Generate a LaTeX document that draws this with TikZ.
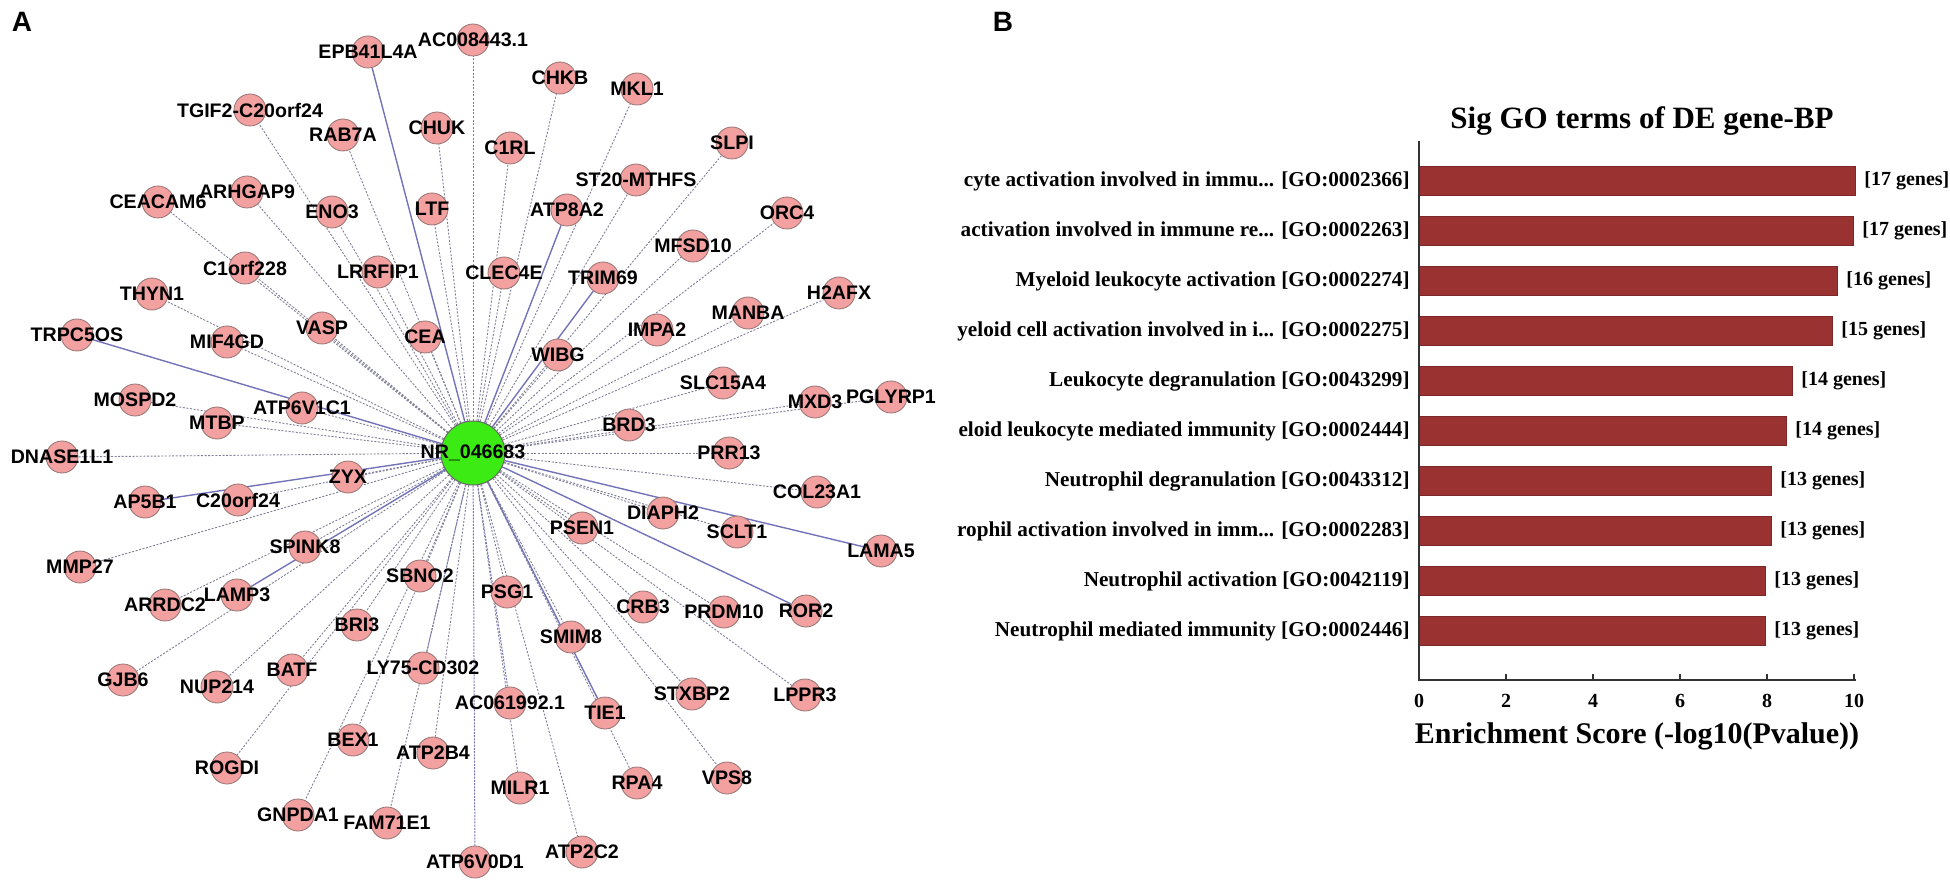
\documentclass[tikz,border=0pt]{standalone}
\usepackage{fontspec}
\setmainfont{Liberation Serif}
\setsansfont{Liberation Sans}
\usetikzlibrary{backgrounds}
\definecolor{genefill}{RGB}{242,160,160}
\definecolor{geneline}{RGB}{150,115,115}
\definecolor{hubfill}{RGB}{60,235,20}
\definecolor{linkgray}{RGB}{125,125,150}
\definecolor{linkblue}{RGB}{115,115,185}
\definecolor{barred}{RGB}{155,50,50}
\tikzset{
  genetext/.style={font=\sffamily\bfseries\fontsize{9.8}{11}\selectfont, inner sep=0pt},
  gene/.style={circle, draw=geneline, line width=0.4pt, fill=genefill, minimum size=16pt, inner sep=0pt, label={[genetext]center:#1}},
  hub/.style={circle, draw=black!60, line width=0.5pt, fill=hubfill, minimum size=32pt, inner sep=0pt, label={[genetext]center:#1}},
  link/.style={linkgray, line width=0.45pt, dash pattern=on 1pt off 0.8pt},
  bluelink/.style={linkblue, line width=0.5pt, dash pattern=on 1pt off 0.6pt},
  strong/.style={linkblue, line width=0.7pt},
  goterm/.style={anchor=east, inner sep=0pt, font=\bfseries\fontsize{10.6}{12}\selectfont},
  genecount/.style={anchor=west, inner sep=0pt, font=\bfseries\fontsize{10}{12}\selectfont},
  bar/.style={fill=barred, draw=barred!80!black, line width=0.4pt},
  panel/.style={font=\sffamily\bfseries\fontsize{14}{16}\selectfont, inner sep=0pt}
}
\begin{document}
\begin{tikzpicture}[x=0.5pt, y=-0.5pt]
    \useasboundingbox (0,0) rectangle (1950,882);

    \node[panel] (labA) at (22,22) {A};
    \node[panel] (labB) at (1003,22) {B};

    \node[hub=NR\_046683] (hub) at (473,453) {};

    \node[gene=EPB41L4A] (EPB41L4A) at (368,52) {};
    \node[gene=AC008443.1] (AC008443) at (473,40) {};
    \node[gene=TGIF2-C20orf24] (TGIF2) at (250,110) {};
    \node[gene=RAB7A] (RAB7A) at (343,135) {};
    \node[gene=CHKB] (CHKB) at (560,78) {};
    \node[gene=MKL1] (MKL1) at (637,89) {};
    \node[gene=CHUK] (CHUK) at (437,128) {};
    \node[gene=C1RL] (C1RL) at (510,148) {};
    \node[gene=SLPI] (SLPI) at (732,143) {};
    \node[gene=ST20-MTHFS] (ST20) at (636,180) {};
    \node[gene=CEACAM6] (CEACAM6) at (158,202) {};
    \node[gene=ARHGAP9] (ARHGAP9) at (247,192) {};
    \node[gene=ENO3] (ENO3) at (332,212) {};
    \node[gene=LTF] (LTF) at (432,209) {};
    \node[gene=ATP8A2] (ATP8A2) at (567,210) {};
    \node[gene=ORC4] (ORC4) at (787,213) {};
    \node[gene=MFSD10] (MFSD10) at (693,246) {};
    \node[gene=C1orf228] (C1orf228) at (245,268) {};
    \node[gene=LRRFIP1] (LRRFIP1) at (378,272) {};
    \node[gene=CLEC4E] (CLEC4E) at (504,273) {};
    \node[gene=TRIM69] (TRIM69) at (603,278) {};
    \node[gene=H2AFX] (H2AFX) at (839,293) {};
    \node[gene=THYN1] (THYN1) at (152,294) {};
    \node[gene=MANBA] (MANBA) at (748,313) {};
    \node[gene=VASP] (VASP) at (322,328) {};
    \node[gene=TRPC5OS] (TRPC5OS) at (77,335) {};
    \node[gene=IMPA2] (IMPA2) at (657,330) {};
    \node[gene=CEA] (CEA) at (425,337) {};
    \node[gene=MIF4GD] (MIF4GD) at (227,342) {};
    \node[gene=WIBG] (WIBG) at (558,355) {};
    \node[gene=SLC15A4] (SLC15A4) at (723,383) {};
    \node[gene=MOSPD2] (MOSPD2) at (135,400) {};
    \node[gene=MXD3] (MXD3) at (815,402) {};
    \node[gene=PGLYRP1] (PGLYRP1) at (891,397) {};
    \node[gene=ATP6V1C1] (ATP6V1C1) at (302,408) {};
    \node[gene=MTBP] (MTBP) at (217,423) {};
    \node[gene=BRD3] (BRD3) at (629,425) {};
    \node[gene=DNASE1L1] (DNASE1L1) at (62,457) {};
    \node[gene=PRR13] (PRR13) at (729,453) {};
    \node[gene=ZYX] (ZYX) at (348,477) {};
    \node[gene=COL23A1] (COL23A1) at (817,492) {};
    \node[gene=AP5B1] (AP5B1) at (145,502) {};
    \node[gene=C20orf24] (C20orf24) at (238,500) {};
    \node[gene=DIAPH2] (DIAPH2) at (663,513) {};
    \node[gene=PSEN1] (PSEN1) at (582,528) {};
    \node[gene=SCLT1] (SCLT1) at (737,532) {};
    \node[gene=SPINK8] (SPINK8) at (305,547) {};
    \node[gene=LAMA5] (LAMA5) at (881,551) {};
    \node[gene=MMP27] (MMP27) at (80,567) {};
    \node[gene=SBNO2] (SBNO2) at (420,576) {};
    \node[gene=PSG1] (PSG1) at (507,592) {};
    \node[gene=ARRDC2] (ARRDC2) at (165,605) {};
    \node[gene=LAMP3] (LAMP3) at (237,595) {};
    \node[gene=CRB3] (CRB3) at (643,607) {};
    \node[gene=ROR2] (ROR2) at (806,611) {};
    \node[gene=PRDM10] (PRDM10) at (724,612) {};
    \node[gene=BRI3] (BRI3) at (357,625) {};
    \node[gene=SMIM8] (SMIM8) at (571,637) {};
    \node[gene=LY75-CD302] (LY75) at (423,668) {};
    \node[gene=BATF] (BATF) at (292,670) {};
    \node[gene=GJB6] (GJB6) at (123,680) {};
    \node[gene=NUP214] (NUP214) at (217,687) {};
    \node[gene=STXBP2] (STXBP2) at (692,694) {};
    \node[gene=LPPR3] (LPPR3) at (805,695) {};
    \node[gene=AC061992.1] (AC061992) at (510,703) {};
    \node[gene=TIE1] (TIE1) at (605,713) {};
    \node[gene=BEX1] (BEX1) at (353,740) {};
    \node[gene=ATP2B4] (ATP2B4) at (433,753) {};
    \node[gene=ROGDI] (ROGDI) at (227,768) {};
    \node[gene=VPS8] (VPS8) at (727,778) {};
    \node[gene=RPA4] (RPA4) at (637,783) {};
    \node[gene=MILR1] (MILR1) at (520,788) {};
    \node[gene=GNPDA1] (GNPDA1) at (298,815) {};
    \node[gene=FAM71E1] (FAM71E1) at (387,823) {};
    \node[gene=ATP2C2] (ATP2C2) at (582,852) {};
    \node[gene=ATP6V0D1] (ATP6V0D1) at (475,862) {};

    \begin{pgfonlayer}{background}
        \draw[strong] (hub) -- (EPB41L4A);
        \draw[link] (hub) -- (AC008443);
        \draw[link] (hub) -- (TGIF2);
        \draw[link] (hub) -- (RAB7A);
        \draw[link] (hub) -- (CHKB);
        \draw[link] (hub) -- (MKL1);
        \draw[link] (hub) -- (CHUK);
        \draw[link] (hub) -- (C1RL);
        \draw[link] (hub) -- (SLPI);
        \draw[link] (hub) -- (ST20);
        \draw[link] (hub) -- (CEACAM6);
        \draw[link] (hub) -- (ARHGAP9);
        \draw[link] (hub) -- (ENO3);
        \draw[link] (hub) -- (LTF);
        \draw[strong] (hub) -- (ATP8A2);
        \draw[link] (hub) -- (ORC4);
        \draw[link] (hub) -- (MFSD10);
        \draw[link] (hub) -- (C1orf228);
        \draw[link] (hub) -- (LRRFIP1);
        \draw[link] (hub) -- (CLEC4E);
        \draw[strong] (hub) -- (TRIM69);
        \draw[link] (hub) -- (H2AFX);
        \draw[link] (hub) -- (THYN1);
        \draw[link] (hub) -- (MANBA);
        \draw[link] (hub) -- (VASP);
        \draw[strong] (hub) -- (TRPC5OS);
        \draw[link] (hub) -- (IMPA2);
        \draw[link] (hub) -- (CEA);
        \draw[link] (hub) -- (MIF4GD);
        \draw[link] (hub) -- (WIBG);
        \draw[link] (hub) -- (SLC15A4);
        \draw[link] (hub) -- (MOSPD2);
        \draw[link] (hub) -- (MXD3);
        \draw[link] (hub) -- (PGLYRP1);
        \draw[link] (hub) -- (ATP6V1C1);
        \draw[link] (hub) -- (MTBP);
        \draw[link] (hub) -- (BRD3);
        \draw[link] (hub) -- (DNASE1L1);
        \draw[link] (hub) -- (PRR13);
        \draw[link] (hub) -- (ZYX);
        \draw[link] (hub) -- (COL23A1);
        \draw[strong] (hub) -- (AP5B1);
        \draw[link] (hub) -- (C20orf24);
        \draw[link] (hub) -- (DIAPH2);
        \draw[link] (hub) -- (PSEN1);
        \draw[link] (hub) -- (SCLT1);
        \draw[link] (hub) -- (SPINK8);
        \draw[strong] (hub) -- (LAMA5);
        \draw[link] (hub) -- (MMP27);
        \draw[link] (hub) -- (SBNO2);
        \draw[link] (hub) -- (PSG1);
        \draw[link] (hub) -- (ARRDC2);
        \draw[strong] (hub) -- (LAMP3);
        \draw[link] (hub) -- (CRB3);
        \draw[strong] (hub) -- (ROR2);
        \draw[link] (hub) -- (PRDM10);
        \draw[link] (hub) -- (BRI3);
        \draw[link] (hub) -- (SMIM8);
        \draw[bluelink] (hub) -- (LY75);
        \draw[link] (hub) -- (BATF);
        \draw[link] (hub) -- (GJB6);
        \draw[link] (hub) -- (NUP214);
        \draw[link] (hub) -- (STXBP2);
        \draw[link] (hub) -- (LPPR3);
        \draw[bluelink] (hub) -- (AC061992);
        \draw[strong] (hub) -- (TIE1);
        \draw[link] (hub) -- (BEX1);
        \draw[link] (hub) -- (ATP2B4);
        \draw[link] (hub) -- (ROGDI);
        \draw[link] (hub) -- (VPS8);
        \draw[link] (hub) -- (RPA4);
        \draw[link] (hub) -- (MILR1);
        \draw[link] (hub) -- (GNPDA1);
        \draw[link] (hub) -- (FAM71E1);
        \draw[link] (hub) -- (ATP2C2);
        \draw[bluelink] (hub) -- (ATP6V0D1);
    \end{pgfonlayer}

    \node[font=\bfseries\fontsize{15.5}{17}\selectfont] (title) at (1642,121) {Sig GO terms of DE gene-BP};

    \draw[bar] (1419,166.5) rectangle (1855,195.5);
    \draw[bar] (1419,216.5) rectangle (1853,245.5);
    \draw[bar] (1419,266.5) rectangle (1837,295.5);
    \draw[bar] (1419,316.5) rectangle (1832,345.5);
    \draw[bar] (1419,366.5) rectangle (1792,395.5);
    \draw[bar] (1419,416.5) rectangle (1786,445.5);
    \draw[bar] (1419,466.5) rectangle (1771,495.5);
    \draw[bar] (1419,516.5) rectangle (1771,545.5);
    \draw[bar] (1419,566.5) rectangle (1765,595.5);
    \draw[bar] (1419,616.5) rectangle (1765,645.5);

    \node[goterm] (t1) at (1410,181) {cyte activation involved in immu... [GO:0002366]};
    \node[goterm] (t2) at (1410,231) {activation involved in immune re... [GO:0002263]};
    \node[goterm] (t3) at (1410,281) {Myeloid leukocyte activation [GO:0002274]};
    \node[goterm] (t4) at (1410,331) {yeloid cell activation involved in i... [GO:0002275]};
    \node[goterm] (t5) at (1410,381) {Leukocyte degranulation [GO:0043299]};
    \node[goterm] (t6) at (1410,431) {eloid leukocyte mediated immunity [GO:0002444]};
    \node[goterm] (t7) at (1410,481) {Neutrophil degranulation [GO:0043312]};
    \node[goterm] (t8) at (1410,531) {rophil activation involved in imm... [GO:0002283]};
    \node[goterm] (t9) at (1410,581) {Neutrophil activation [GO:0042119]};
    \node[goterm] (t10) at (1410,631) {Neutrophil mediated immunity [GO:0002446]};

    \node[genecount] (c1) at (1864,181) {[17 genes]};
    \node[genecount] (c2) at (1862,231) {[17 genes]};
    \node[genecount] (c3) at (1846,281) {[16 genes]};
    \node[genecount] (c4) at (1841,331) {[15 genes]};
    \node[genecount] (c5) at (1801,381) {[14 genes]};
    \node[genecount] (c6) at (1795,431) {[14 genes]};
    \node[genecount] (c7) at (1780,481) {[13 genes]};
    \node[genecount] (c8) at (1780,531) {[13 genes]};
    \node[genecount] (c9) at (1774,581) {[13 genes]};
    \node[genecount] (c10) at (1774,631) {[13 genes]};

    \draw[black!80, line width=0.7pt] (1419,141) -- (1419,680) -- (1856,680);
    \draw[black!80, line width=0.6pt] (1506,680) -- (1506,674);
    \draw[black!80, line width=0.6pt] (1593,680) -- (1593,674);
    \draw[black!80, line width=0.6pt] (1680,680) -- (1680,674);
    \draw[black!80, line width=0.6pt] (1767,680) -- (1767,674);
    \draw[black!80, line width=0.6pt] (1854,680) -- (1854,674);

    \node[font=\bfseries\fontsize{10}{12}\selectfont] (x0) at (1419,701) {0};
    \node[font=\bfseries\fontsize{10}{12}\selectfont] (x2) at (1506,701) {2};
    \node[font=\bfseries\fontsize{10}{12}\selectfont] (x4) at (1593,701) {4};
    \node[font=\bfseries\fontsize{10}{12}\selectfont] (x6) at (1680,701) {6};
    \node[font=\bfseries\fontsize{10}{12}\selectfont] (x8) at (1767,701) {8};
    \node[font=\bfseries\fontsize{10}{12}\selectfont] (x10) at (1854,701) {10};

    \node[font=\bfseries\fontsize{15}{17}\selectfont] (xlabel) at (1637,736) {Enrichment Score (-log10(Pvalue))};
\end{tikzpicture}
\end{document}
